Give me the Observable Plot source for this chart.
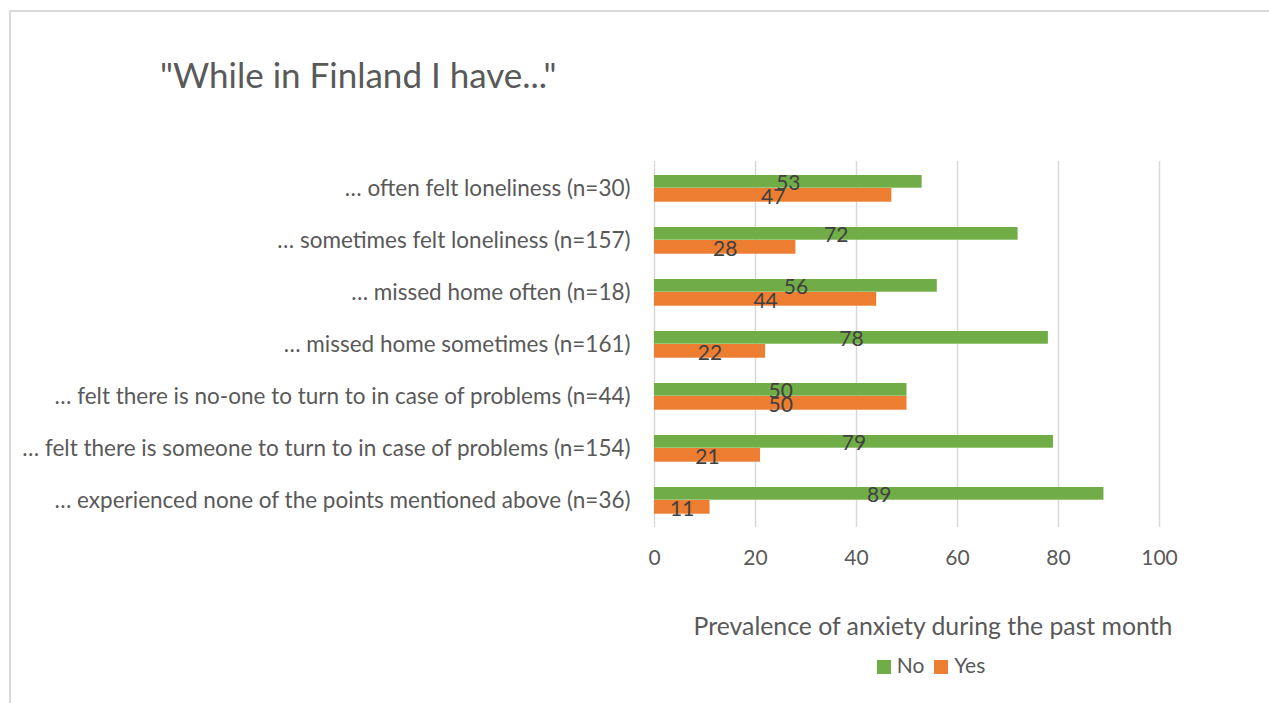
<!DOCTYPE html>
<html>
<head>
<meta charset="utf-8">
<script src="https://cdn.jsdelivr.net/npm/d3@7"></script>
<script src="https://cdn.jsdelivr.net/npm/@observablehq/plot@0.6"></script>
<style>
  html, body { margin: 0; padding: 0; background: #fff; }
  body { width: 1269px; height: 703px; position: relative; overflow: hidden; font-family: Lato, "Open Sans", sans-serif; color: #595959; }
  #frame { position: absolute; left: 9px; top: 10px; width: 1300px; height: 720px; border-top: 2px solid #d9d9d9; border-left: 2px solid #d9d9d9; }
  #title { position: absolute; left: 160px; top: 53px; font-size: 35px; color: #595959; white-space: nowrap; }
  #chart { position: absolute; left: 0; top: 140px; }
  #xtitle { position: absolute; left: 0; width: 1866px; top: 611px; text-align: center; font-size: 24.8px; color: #595959; white-space: nowrap; }
  #legend { position: absolute; left: 0; width: 1862px; top: 652px; text-align: center; font-size: 21px; color: #595959; white-space: nowrap; }
  .sw { display: inline-block; width: 14px; height: 14px; margin-right: 6px; vertical-align: -1px; }
  .item { margin: 0 5px; }
</style>
</head>
<body>
<div id="frame"></div>
<div id="title">"While in Finland I have..."</div>
<div id="chart"></div>
<div id="xtitle">Prevalence of anxiety during the past month</div>
<div id="legend"></div>
<script>
const categories = [
  "… often felt loneliness (n=30)",
  "… sometimes felt loneliness (n=157)",
  "… missed home often (n=18)",
  "… missed home sometimes (n=161)",
  "… felt there is no-one to turn to in case of problems (n=44)",
  "… felt there is someone to turn to in case of problems (n=154)",
  "… experienced none of the points mentioned above (n=36)"
];
const noValues  = [53, 72, 56, 78, 50, 79, 89];
const yesValues = [47, 28, 44, 22, 50, 21, 11];
const seriesNames = ["No", "Yes"];
const seriesColors = ["#70AD47", "#ED7D31"];
const xTicks = [0, 20, 40, 60, 80, 100];

const noData  = categories.map((c, i) => ({category: c, value: noValues[i]}));
const yesData = categories.map((c, i) => ({category: c, value: yesValues[i]}));

const chart = Plot.plot({
  width: 1269,
  height: 460,
  marginLeft: 654,
  marginRight: 110,
  marginTop: 21,
  marginBottom: 73,
  style: {fontFamily: "Lato, 'Open Sans', sans-serif", color: "#595959", background: "transparent"},
  x: {domain: [0, 100], ticks: xTicks},
  y: {domain: categories, padding: 0},
  marks: [
    Plot.gridX(xTicks, {stroke: "#d9d9d9", strokeOpacity: 1, strokeWidth: 1.5}),
    Plot.barX(noData, {x: "value", y: "category", fill: seriesColors[0], insetTop: 13, insetBottom: 26.3}),
    Plot.barX(yesData, {x: "value", y: "category", fill: seriesColors[1], insetTop: 26, insetBottom: 12.3}),
    Plot.text(noData, {x: d => d.value / 2, y: "category", text: d => String(d.value), dy: -5, fontSize: 21, fill: "#404040"}),
    Plot.text(yesData, {x: d => d.value / 2, y: "category", text: d => String(d.value), dy: 9, fontSize: 21, fill: "#404040"}),
    Plot.axisX(xTicks, {tickSize: 0, tickPadding: 23, fontSize: 21, fill: "#595959", label: null}),
    Plot.axisY({tickSize: 0, tickPadding: 24, fontSize: 22.5, fill: "#595959", label: null})
  ]
});
document.getElementById("chart").appendChild(chart);

const legend = document.getElementById("legend");
seriesNames.forEach((name, i) => {
  const span = document.createElement("span");
  span.className = "item";
  span.innerHTML = `<span class="sw" style="background:${seriesColors[i]}"></span>${name}`;
  legend.appendChild(span);
});
</script>
</body>
</html>
